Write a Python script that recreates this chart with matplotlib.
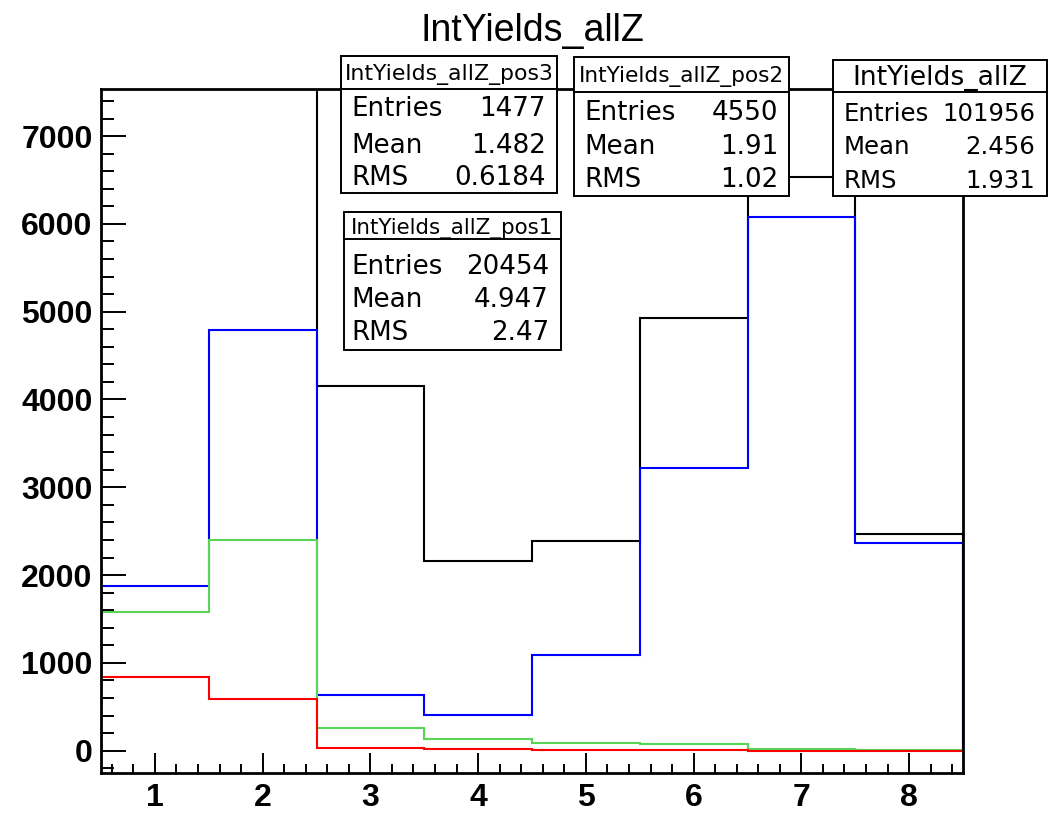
import numpy as np
import matplotlib
matplotlib.use("Agg")
import matplotlib.pyplot as plt
from matplotlib.patches import Rectangle
from matplotlib.ticker import MultipleLocator

# bin edges / contents of the four yield histograms
edges = np.arange(0.5, 9.0, 1.0)
yields_allZ = [36270, 43080, 4157, 2156, 2384, 4928, 6537, 2468]
yields_pos1 = [1871, 4795, 632, 406, 1093, 3215, 6076, 2366]
yields_pos2 = [1583, 2403, 262, 133, 83, 76, 15, 4]
yields_pos3 = [835, 588, 34, 18, 4, 3, 2, 1]

x_ticks = [1, 2, 3, 4, 5, 6, 7, 8]
y_ticks = [0, 1000, 2000, 3000, 4000, 5000, 6000, 7000]

# stat boxes: name, entries, mean, rms
stats = {
    "pos3": ("IntYields_allZ_pos3", "1477", "1.482", "0.6184"),
    "pos2": ("IntYields_allZ_pos2", "4550", "1.91", "1.02"),
    "allZ": ("IntYields_allZ", "101956", "2.456", "1.931"),
    "pos1": ("IntYields_allZ_pos1", "20454", "4.947", "2.47"),
}

W, H = 1050, 814
fig = plt.figure(figsize=(W / 100, H / 100), dpi=100)
ax = fig.add_axes([101 / W, 1 - 773 / H, (963 - 101) / W, (773 - 89) / H])

ax.stairs(yields_allZ, edges, color="black", lw=1.5)
ax.stairs(yields_pos1, edges, color="#0000ff", lw=1.5)
ax.stairs(yields_pos2, edges, color="#59d454", lw=1.5)
ax.stairs(yields_pos3, edges, color="#ff0000", lw=1.5)

ax.set_xlim(0.5, 8.5)
ax.set_ylim(-254, 7536)
ax.set_xticks(x_ticks)
ax.set_yticks(y_ticks)
ax.xaxis.set_minor_locator(MultipleLocator(0.2))
ax.yaxis.set_minor_locator(MultipleLocator(200))
for s in ax.spines.values():
    s.set_linewidth(2.0)
ax.tick_params(which="both", direction="in", top=False, right=False, width=1.4)
ax.tick_params(axis="y", which="major", length=18, pad=6)
ax.tick_params(axis="y", which="minor", length=9)
ax.tick_params(axis="x", which="major", length=14.5, pad=7)
ax.tick_params(axis="x", which="minor", length=6.7)
for lab in ax.get_xticklabels() + ax.get_yticklabels():
    lab.set_fontfamily("Liberation Sans")
    lab.set_fontweight("bold")
    lab.set_fontsize(23)

fig.text(532 / W, 1 - 40.7 / H, "IntYields_allZ", ha="center", va="baseline",
         fontsize=27, family="Liberation Sans")


def stat_box(key, left, top, right, bottom, sep, head_base, row_bases,
             lab_x, val_x, head_size, row_size):
    name, entries, mean, rms = stats[key]
    fig.add_artist(Rectangle((left / W, 1 - bottom / H), (right - left) / W,
                             (bottom - top) / H, transform=fig.transFigure,
                             facecolor="white", edgecolor="black", lw=1.4,
                             zorder=5))
    fig.add_artist(plt.Line2D([left / W, right / W], [1 - sep / H, 1 - sep / H],
                              transform=fig.transFigure, color="black",
                              lw=1.4, zorder=6))
    fig.text((left + right) / 2 / W, 1 - head_base / H, name, ha="center",
             va="baseline", fontsize=head_size, family="DejaVu Sans", zorder=7)
    for lab, val, yb in zip(["Entries", "Mean", "RMS"], [entries, mean, rms],
                            row_bases):
        fig.text(lab_x / W, 1 - yb / H, lab, ha="left", va="baseline",
                 fontsize=row_size, family="DejaVu Sans", zorder=7)
        fig.text(val_x / W, 1 - yb / H, val, ha="right", va="baseline",
                 fontsize=row_size, family="DejaVu Sans", zorder=7)


stat_box("pos3", 341, 56, 557, 193, 89.3, 80, [115.7, 152.7, 185], 351, 546, 15.8, 18.8)
stat_box("pos2", 574, 57, 789, 196, 91.7, 81.7, [120, 154, 186.7], 584, 778, 15.6, 18.8)
stat_box("allZ", 833, 60, 1047, 196, 92.3, 85, [120.7, 154, 188.3], 844, 1035, 19.2, 17.6)
stat_box("pos1", 344, 212, 561, 350, 239, 234, [274, 307.3, 340], 351, 549, 15.4, 18.8)

fig.savefig("out.png", dpi=100)
